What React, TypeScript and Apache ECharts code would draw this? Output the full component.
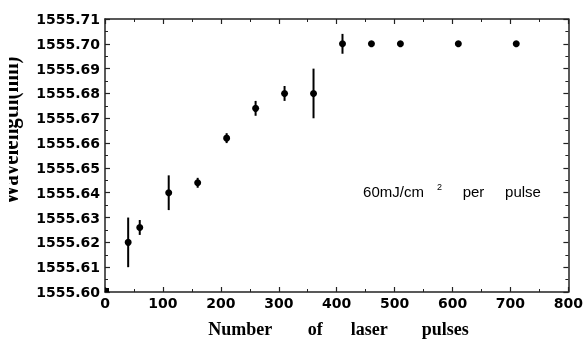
import React, { useEffect, useRef } from "react";
import * as echarts from "echarts";

const pulses = [40, 60, 110, 160, 210, 260, 310, 360, 410, 460, 510, 610, 710];
const wavelengths = [1555.62, 1555.626, 1555.64, 1555.644, 1555.662, 1555.674, 1555.68, 1555.68, 1555.7, 1555.7, 1555.7, 1555.7, 1555.7];
const errors = [0.01, 0.003, 0.007, 0.002, 0.002, 0.003, 0.003, 0.01, 0.004, 0, 0, 0, 0];
const originPoint = [[0, 1555.6]];

const xMin = 0, xMax = 800, xStep = 100;
const yMin = 1555.6, yMax = 1555.71, yStep = 0.01;

const tickFont = { fontFamily: '"DejaVu Sans", Arial, sans-serif', fontWeight: "bold" as const, fontSize: 14, color: "#000" };
const serif = '"Liberation Serif", "Times New Roman", serif';
const sans = '"Liberation Sans", Arial, sans-serif';

export default function App() {
  const ref = useRef<HTMLDivElement>(null);
  useEffect(() => {
    if (!ref.current) return;
    const chart = echarts.init(ref.current, null, { renderer: "svg" });
    const points = pulses.map((x, i) => [x, wavelengths[i]]);
    const bars = pulses.map((x, i) => [x, wavelengths[i] - errors[i], wavelengths[i] + errors[i]]);
    const axisLine = { show: true, onZero: false, lineStyle: { color: "#222", width: 1.5 } };
    const tick = { show: true, inside: true, length: 5, lineStyle: { color: "#222", width: 1.2 } };
    const minor = { show: true, splitNumber: 2, length: 3, lineStyle: { color: "#222", width: 1 } };
    const xCommon = { type: "value", min: xMin, max: xMax, interval: xStep, axisLine, splitLine: { show: false }, axisTick: tick, minorTick: minor };
    const yCommon = { type: "value", min: yMin, max: yMax, interval: yStep, axisLine, splitLine: { show: false }, axisTick: tick, minorTick: minor };
    const word = (w: number) => ({ fontFamily: serif, fontWeight: "bold", fontSize: 18, color: "#000", width: w, align: "center" });
    const ann = (w: number) => ({ fontFamily: sans, fontSize: 15, fill: "#000", width: w, align: "center", lineHeight: 18 });
    chart.setOption({
      animation: false,
      grid: { left: 105, right: 15, top: 19, bottom: 50 },
      xAxis: [
        {
          ...xCommon, position: "bottom",
          axisLabel: { ...tickFont, margin: 4 },
          name: "{w1|Number}{g1| }{w2|of}{g2| }{w3|laser}{g3| }{w4|pulses}",
          nameLocation: "middle", nameGap: 28,
          nameTextStyle: {
            fontFamily: serif, fontWeight: "bold", fontSize: 18, color: "#000",
            rich: { w1: word(82), w2: word(22), w3: word(50), w4: word(58), g1: { width: 23 }, g2: { width: 18 }, g3: { width: 22 } },
          },
        },
        { ...xCommon, position: "top", axisLabel: { show: false } },
      ],
      yAxis: [
        { ...yCommon, position: "left", axisLabel: { ...tickFont, margin: 5, formatter: (v: number) => v.toFixed(2) } },
        { ...yCommon, position: "right", axisLabel: { show: false } },
      ],
      series: [
        {
          type: "custom",
          data: bars,
          renderItem: (params: any, api: any) => {
            const p1 = api.coord([api.value(0), api.value(1)]);
            const p2 = api.coord([api.value(0), api.value(2)]);
            return { type: "line", shape: { x1: p1[0], y1: p1[1], x2: p2[0], y2: p2[1] }, style: { stroke: "#000", lineWidth: 2 } };
          },
          z: 2,
        },
        { type: "scatter", data: points, symbol: "circle", symbolSize: 7, itemStyle: { color: "#000", opacity: 1 }, z: 3 },
        {
          type: "custom",
          data: originPoint,
          clip: false,
          renderItem: (params: any, api: any) => {
            const p = api.coord([api.value(0), api.value(1)]);
            return { type: "rect", shape: { x: p[0], y: p[1] - 4, width: 4, height: 4 }, style: { fill: "#000" } };
          },
          z: 3,
        },
      ],
      graphic: [
        {
          type: "text", x: 22, y: 131, rotation: Math.PI / 2, scaleX: 1, scaleY: 1.15,
          style: { text: "Wavelength(nm)", font: `bold 21px ${serif}`, fill: "#000", align: "center", verticalAlign: "bottom" },
          z: 10,
        },
        { type: "rect", shape: { x: 0, y: 30, width: 9, height: 200 }, style: { fill: "#fff" }, z: 11 },
        {
          type: "text", x: 449, y: 191,
          style: {
            text: "{a|60mJ/cm}{s|2}{g| }{a2|per}{g2| }{a3|pulse}",
            align: "center", verticalAlign: "middle",
            rich: {
              a: ann(77),
              s: { fontFamily: sans, fontSize: 9, fill: "#000", width: 15, align: "center", verticalAlign: "top", lineHeight: 9 },
              g: { width: 10 },
              a2: ann(33),
              g2: { width: 13 },
              a3: ann(40),
            },
          },
          z: 10,
        },
      ],
    });
    return () => chart.dispose();
  }, []);
  return <div ref={ref} style={{ position: "fixed", left: 0, top: 0, width: 586, height: 343 }} />;
}
